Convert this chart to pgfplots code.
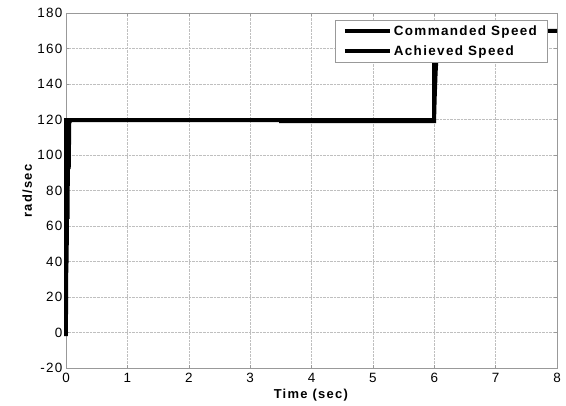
\documentclass[border=0pt]{standalone}
\usepackage{pgfplots}
\pgfplotsset{compat=1.18}
\usepackage{fontspec}
\setmainfont{Liberation Sans}
\newfontfamily\legfont[LetterSpace=10]{Liberation Sans}

\pgfplotstableread{
t v
0 0
0 120
6 120
6 170
8 170
}\commanded

\pgfplotstableread{
t v
0 -2
0.004 13
0.008 38
0.014 40
0.018 65
0.028 65
0.034 93
0.048 93
0.056 118
0.075 119.6
3.5 119.6
3.5 119.0
6.0 119.0
6.01 132
6.025 146
6.05 162
6.08 169
6.1 170
8 170
}\achieved

\begin{document}
\begin{tikzpicture}
\begin{axis}[
  width=491bp, height=355bp, scale only axis,
  xmin=0, xmax=8, ymin=-20, ymax=180,
  xtick={0,1,...,8}, ytick={-20,0,...,180},
  grid=major,
  major grid style={densely dotted, line width=0.4bp, color=black!25},
  axis line style={color=black!40, line width=0.6bp},
  tick style={color=black!40, line width=0.5bp},
  major tick length=3bp,
  tick align=inside,
  /pgf/number format/assume math mode=true,
  tick label style={font=\fontsize{13.5}{15}\selectfont\legfont},
  xticklabel style={yshift=-2bp},
  xlabel={\textbf{Time (sec)}},
  ylabel={\textbf{rad/sec}},
  label style={font=\fontsize{13}{15}\selectfont\legfont},
  xlabel style={yshift=1bp},
  ylabel style={yshift=-1.5bp},
  legend style={
    at={(0.98,0.98)}, anchor=north east,
    draw=black!40, line width=0.6bp, fill=white,
    font=\fontsize{13.5}{15}\selectfont\legfont\bfseries,
    row sep=5bp, inner xsep=8bp, inner ysep=3bp,
    legend cell align=left,
  },
  legend image code/.code={\draw[line width=4bp] (0bp,0bp) -- (45bp,0bp);},
  clip=false,
]
\addplot[black, line width=3.6bp, line join=miter] table[x=t, y=v] {\commanded};
\addlegendentry{Commanded Speed}
\addplot[black, line width=3.6bp, line join=miter] table[x=t, y=v] {\achieved};
\addlegendentry{Achieved Speed}
\end{axis}
\pgfresetboundingbox
\path[use as bounding box] ([shift={(-66bp,-37bp)}]current axis.south west) rectangle ([shift={(9bp,13bp)}]current axis.north east);
\end{tikzpicture}
\end{document}
